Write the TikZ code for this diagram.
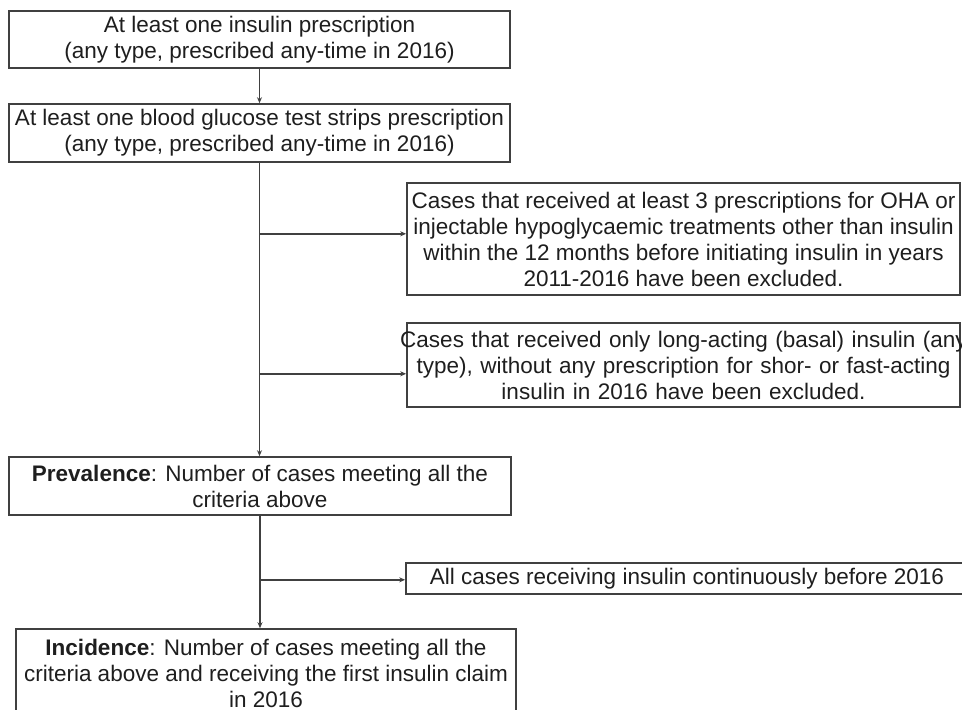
\documentclass[tikz,border=0pt]{standalone}
\usepackage{fontspec}
\setmainfont{Liberation Sans}
\usetikzlibrary{arrows.meta}
\definecolor{boxgray}{HTML}{404040}
\definecolor{txtgray}{HTML}{1E1E1E}

\begin{document}
\begin{tikzpicture}[x=1pt, y=-1pt,
            box/.style={draw=boxgray, line width=1.6pt, align=center, text=txtgray,
                font=\fontsize{22.5}{26}\selectfont, inner sep=0pt},
            flow/.style={draw=boxgray, line width=1.4pt, -{Stealth[length=6pt, width=5pt]}}]
        \useasboundingbox (0,0) rectangle (962,710);

        \node (ins) [box, minimum width=501pt, minimum height=57pt] at (259.5,39.5)
            {At least one insulin prescription\\(any type, prescribed any-time in 2016)};
        \node (strip) [box, minimum width=501pt, minimum height=58pt] at (259.5,133)
            {At least one blood glucose test strips prescription\\(any type, prescribed any-time in 2016)};
        \node (exc1) [box, minimum width=553pt, minimum height=112pt] at (683.5,239)
            {Cases that received at least 3 prescriptions for OHA or\\
             injectable hypoglycaemic treatments other than insulin\\
             within the 12 months before initiating insulin in years\\
             2011-2016 have been excluded.};
        \node (exc2) [box, text width=553pt, minimum height=84pt] at (683.5,365)
            {\makebox[0pt]{Cases that received only long-acting (basal) insulin (any}\\
             type), without any prescription for shor- or fast-acting\\
             insulin in 2016 have been excluded.};
        \node (prev) [box, minimum width=502pt, minimum height=58pt] at (260,486)
            {\textbf{Prevalence}: Number of cases meeting all the\\criteria above};
        \node (exc3) [box, minimum width=562pt, minimum height=31pt] at (687,578.5)
            {All cases receiving insulin continuously before 2016};
        \node (incid) [box, minimum width=500pt, minimum height=88pt] at (266,673)
            {\textbf{Incidence}: Number of cases meeting all the\\
             criteria above and receiving the first insulin claim\\
             in 2016};

        \path (strip.south) ++(0,71) coordinate (b1);
        \path (strip.south) ++(0,211) coordinate (b2);
        \path (prev.south) ++(0,64) coordinate (b3);

        \draw [flow] (ins) -- (strip);
        \draw [flow] (strip.south) -- (strip.south |- prev.north);
        \draw [flow] (b1) -- (b1 -| exc1.west);
        \draw [flow] (b2) -- (b2 -| exc2.west);
        \draw [flow] (prev.south) -- (prev.south |- incid.north);
        \draw [flow] (b3) -- (b3 -| exc3.west);
    \end{tikzpicture}
\end{document}
